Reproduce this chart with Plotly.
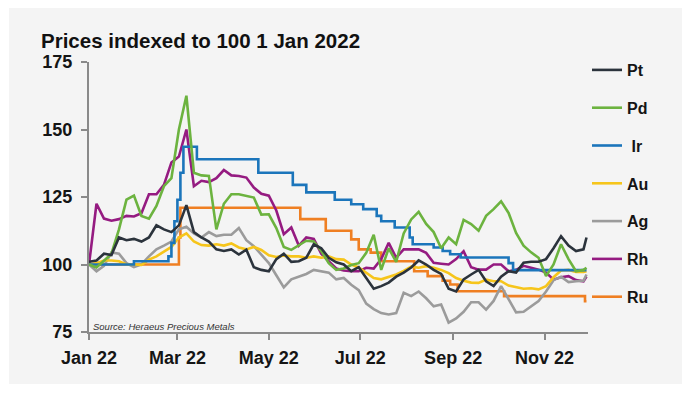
import pandas as pd
import plotly.graph_objects as go

# ---------------- data ----------------
# 5-day sampling grid (Jan 1 .. Nov 27) plus final point Nov 29
DATES = list(pd.date_range("2022-01-01", periods=67, freq="5D").strftime("%Y-%m-%d")) + ["2022-11-29"]

PT = [101, 101.5, 104, 103.5, 110, 109, 109.5, 108.5, 110, 114.5,
      113, 112, 114.5, 122, 112, 110, 108.5, 105.6, 105, 105.6,
      103.7, 105.5, 99, 98, 97.5, 102, 104, 101, 101.2, 102.5,
      107.5, 106, 102.5, 100.8, 100, 97.5, 99, 95, 91, 92,
      93.3, 95.5, 97, 98.9, 101.5, 100, 98, 96.5, 91, 90,
      94.5, 96.3, 98, 93.8, 92, 95.5, 97.5, 97, 100.7, 101,
      101, 102, 106, 110.5, 107, 105, 105.6, 110]

PD = [100, 98.9, 101.4, 104, 113, 124, 125.5, 118, 117, 121.7,
      129, 132, 150, 162.5, 134, 133, 132.8, 113, 122.5, 126,
      126, 125.5, 124.8, 118.5, 118.6, 113.5, 106.5, 105.4, 107.2, 108.8,
      108.5, 105, 100.5, 98, 98.5, 99.8, 100.5, 104.3, 111, 98,
      106, 101, 111.5, 116.7, 119.5, 115, 112, 106, 110, 107.5,
      116.5, 115, 112.5, 118, 120.5, 123.4, 119.1, 111.7, 107, 104.5,
      102.5, 95.7, 100, 107.5, 102, 97.5, 98, 98.8]

AU = [100, 100.5, 101.5, 101.5, 101.2, 100, 100, 99.8, 101.8, 103,
      104.8, 106.5, 110, 111.5, 108.5, 107.2, 107, 107.5, 107, 107.8,
      106.3, 105.6, 106.5, 105.4, 103.4, 102.8, 103.3, 103, 103, 102.5,
      103, 102.5, 103, 102, 101.8, 100, 98.9, 97, 95, 94.5,
      95.3, 96.3, 97.6, 99.2, 98.8, 99.4, 98.8, 98, 96.8, 95,
      94, 93.3, 93.2, 94.4, 93.8, 93.8, 92.2, 91.7, 91, 91.2,
      90.8, 92, 95.3, 97.8, 98, 97.2, 97.2, 97.5]

AG = [100, 97.5, 99.5, 104.5, 104, 100.5, 99, 100, 103, 105.6,
      107, 108.5, 113, 114, 111.5, 110, 112, 110.5, 111, 111,
      113.5, 109, 106.8, 103.5, 100.5, 96, 91.5, 94.5, 95.5, 96.5,
      98, 97.5, 97, 94.5, 95, 92.5, 90.5, 85.5, 83.5, 82,
      81.5, 82, 89.5, 88.3, 90, 87.5, 84.5, 85.2, 78.5, 80,
      82.5, 86, 86, 83.3, 86.5, 92, 87, 82.3, 82.5, 84.5,
      86.5, 90, 94.2, 95.5, 93.5, 93.8, 94, 96.3]

RH = [100, 122.5, 117, 116.2, 116.8, 118, 117.8, 119, 126, 126,
      129.5, 137.8, 140, 150, 129, 131, 130.5, 132, 135, 133,
      132.8, 132.2, 128.5, 126.2, 125.5, 120, 111.2, 113.7, 107, 110,
      109.5, 104, 101.2, 98.5, 97.8, 97.5, 97.5, 98.8, 98.5, 102,
      108, 102.5, 105.6, 105.6, 105.6, 104.3, 100.6, 100.3, 100, 102,
      104.9, 99, 98.1, 98.1, 100, 100, 97.5, 98, 99.5, 98.8,
      98.1, 97, 94.4, 95.3, 95.7, 94.2, 93.8, 95.5]

# Iridium and ruthenium change only in steps (date of change, new level)
IR_DATES = ["2022-01-01", "2022-01-31", "2022-02-23", "2022-02-25", "2022-02-27",
            "2022-03-01", "2022-03-03", "2022-03-05", "2022-03-14", "2022-04-24",
            "2022-05-17", "2022-05-26", "2022-06-14", "2022-06-25", "2022-07-03",
            "2022-07-12", "2022-07-15", "2022-07-24", "2022-08-03", "2022-08-05",
            "2022-08-19", "2022-08-25", "2022-08-30", "2022-09-06", "2022-10-08",
            "2022-10-11", "2022-11-29"]
IR = [100, 101.2, 103, 108, 116,
      124, 134, 143.6, 139, 134,
      129.5, 126.7, 124, 122.3, 120.5,
      118, 116, 113.7, 110, 107.5,
      106.3, 105, 103.8, 102.6, 100.5,
      97.9, 97.9]

RU_DATES = ["2022-01-01", "2022-03-02", "2022-03-03", "2022-05-22", "2022-06-08",
            "2022-06-25", "2022-06-30", "2022-07-08", "2022-07-15", "2022-08-06",
            "2022-08-15", "2022-08-25", "2022-08-30", "2022-09-04", "2022-10-05",
            "2022-11-28", "2022-11-29"]
RU = [100, 110, 121, 116.8, 112.5,
      109.3, 105.6, 104.4, 101.2, 97.5,
      95.7, 94, 92.6, 90.1, 88.3,
      86.4, 86.4]

NAMES = ["Pt", "Pd", " Ir", "Au", "Ag", "Rh", "Ru"]
COLORS = ["#2b333c", "#6cb33f", "#1b75bb", "#f6c51b", "#9b9b9b", "#951b81", "#ef7f22"]

TICK_DATES = ["2022-01-01", "2022-03-01", "2022-05-01", "2022-07-01", "2022-09-01", "2022-11-01"]
TICK_TEXT = ["Jan 22", "Mar 22", "May 22", "Jul 22", "Sep 22", "Nov 22"]
Y_TICKS = [75, 100, 125, 150, 175]

TITLE = "Prices indexed to 100 1 Jan 2022"
SOURCE = "Source: Heraeus Precious Metals"

# ---------------- figure ----------------
series = [
    (DATES, PT, "linear"),
    (DATES, PD, "linear"),
    (IR_DATES, IR, "hv"),
    (DATES, AU, "linear"),
    (DATES, AG, "linear"),
    (DATES, RH, "linear"),
    (RU_DATES, RU, "hv"),
]

fig = go.Figure()
# draw bottom-most first (Ru) so Pt sits on top
for i in reversed(range(len(series))):
    xs, ys, shape = series[i]
    fig.add_trace(go.Scatter(
        x=xs, y=ys, mode="lines", name=NAMES[i],
        line=dict(color=COLORS[i], width=2.6, shape=shape),
        legendgroup=NAMES[i], legendrank=i + 1,
    ))

FONT = "Liberation Sans"
OFF = 8  # page body margin of the html page
W, H = 695 - OFF, 397 - OFF
L, T = 89 - OFF, 62 - OFF
R = W - (588 - OFF)
B = H - (332 - OFF)
pw, ph = W - L - R, H - T - B

def px(xs):  # screen pixel -> paper x
    return (xs - OFF - L) / pw

def py(ys):  # screen pixel -> paper y
    return (H - B - (ys - OFF)) / ph

fig.update_layout(
    width=W, height=H,
    margin=dict(l=L, r=R, t=T, b=B, pad=0),
    paper_bgcolor="white",
    plot_bgcolor="rgba(0,0,0,0)",
    font=dict(family=FONT, size=18, color="#151515", weight="bold"),
    showlegend=True,
    legend=dict(
        x=px(587), y=py(53), xanchor="left", yanchor="top",
        bgcolor="rgba(0,0,0,0)",
        font=dict(family=FONT, size=16, color="#151515", weight="bold"),
        tracegroupgap=14, itemwidth=30, maxheight=600,
    ),
    shapes=[dict(
        type="rect", xref="paper", yref="paper",
        x0=px(9), x1=px(682), y0=py(384), y1=py(8),
        fillcolor="#f4f4f4", line=dict(width=0), layer="below",
    )],
    annotations=[
        dict(text=TITLE, xref="paper", yref="paper", x=px(39), y=py(40),
             xanchor="left", yanchor="middle", showarrow=False,
             font=dict(family=FONT, size=20.5, color="#111111", weight="bold")),
        dict(text="<i>" + SOURCE + "</i>", xref="paper", yref="paper", x=px(91), y=py(326),
             xanchor="left", yanchor="middle", showarrow=False,
             font=dict(family=FONT, size=9.5, color="#333333", weight="normal")),
    ],
)

fig.update_xaxes(
    type="date", range=["2022-01-01", "2022-11-30"],
    tickvals=TICK_DATES, ticktext=TICK_TEXT,
    showgrid=False, zeroline=False,
    showline=True, linecolor="#8a8a8a", linewidth=2,
    ticks="outside", ticklen=6, tickwidth=2, tickcolor="#8a8a8a",
    ticklabelstandoff=2,
    tickfont=dict(family=FONT, size=18, color="#151515", weight="bold"),
)
fig.update_yaxes(
    range=[75, 175], tickvals=Y_TICKS,
    showgrid=False, zeroline=False,
    showline=True, linecolor="#8a8a8a", linewidth=2,
    ticks="outside", ticklen=6, tickwidth=2, tickcolor="#8a8a8a",
    ticklabelstandoff=5,
    tickfont=dict(family=FONT, size=18, color="#151515", weight="bold"),
)

fig.write_html("out.html")
